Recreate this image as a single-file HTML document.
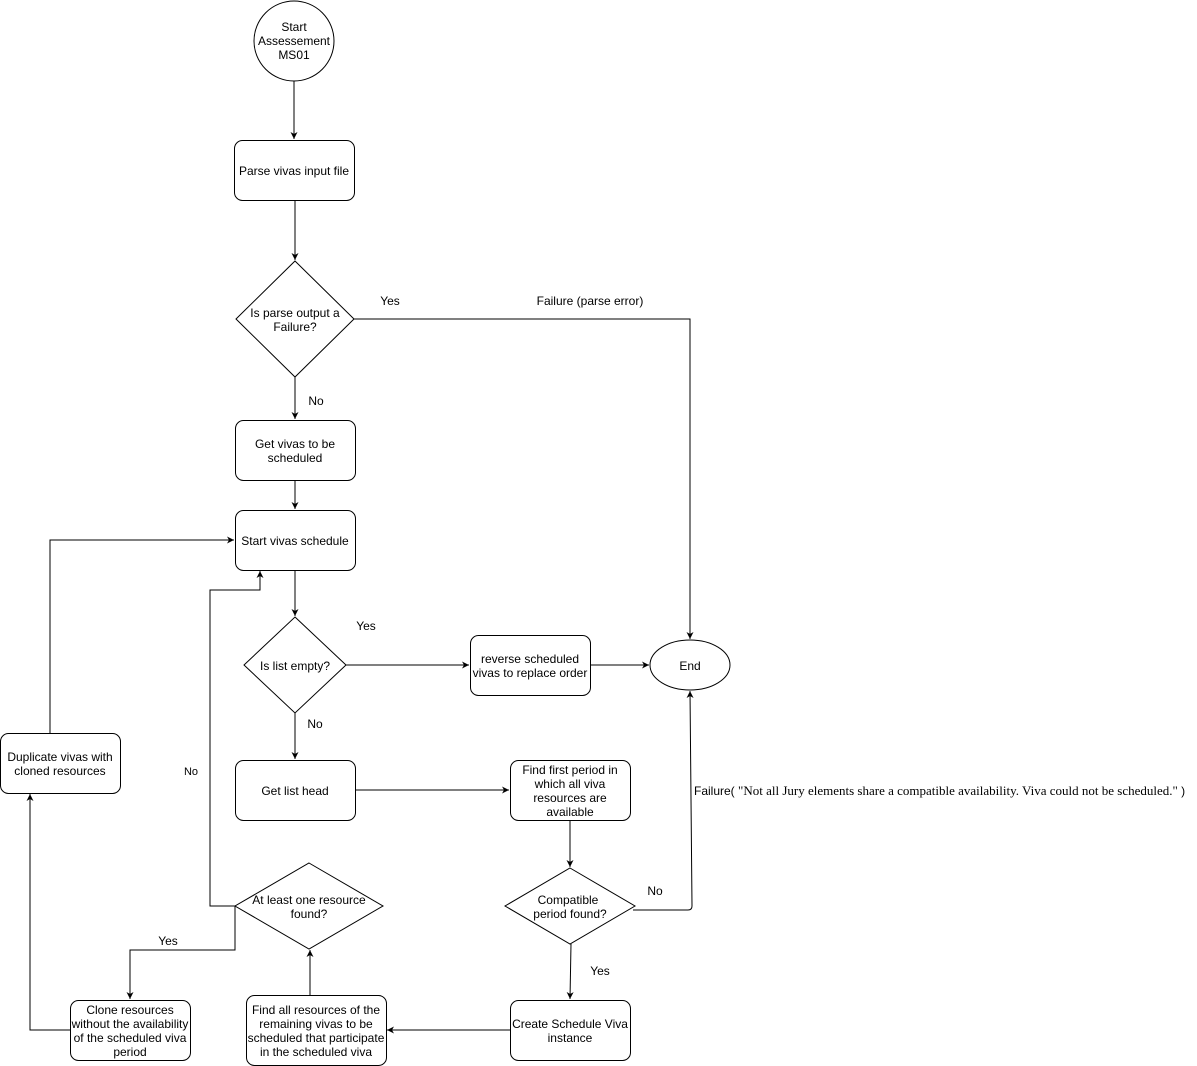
<!DOCTYPE html>
<html><head><meta charset="utf-8"><style>
html,body{margin:0;padding:0;background:#fff;}
svg{display:block;}
text{font-family:"Liberation Sans",sans-serif;font-size:12px;fill:#000;}
.s{fill:#fff;stroke:#000;stroke-width:1;}
.l{fill:none;stroke:#000;stroke-width:1;}
</style></head><body>
<svg width="1197" height="1066" viewBox="0 0 1197 1066" xmlns="http://www.w3.org/2000/svg">
<defs><marker id="a" markerWidth="8" markerHeight="8" refX="7" refY="4" orient="auto" markerUnits="userSpaceOnUse"><path d="M0,0.5 L7,4 L0,7.5 L2,4 Z" fill="#000"/></marker></defs>

<!-- edges -->
<path class="l" d="M294,81 V139" marker-end="url(#a)"/>
<path class="l" d="M295,200 V260" marker-end="url(#a)"/>
<path class="l" d="M354,319 H690 V639" marker-end="url(#a)"/>
<path class="l" d="M295,377 V419" marker-end="url(#a)"/>
<path class="l" d="M295,480 V509" marker-end="url(#a)"/>
<path class="l" d="M295,570 V616" marker-end="url(#a)"/>
<path class="l" d="M346,665 H469" marker-end="url(#a)"/>
<path class="l" d="M590,665 H649" marker-end="url(#a)"/>
<path class="l" d="M295,713 V759" marker-end="url(#a)"/>
<path class="l" d="M355,790 H509" marker-end="url(#a)"/>
<path class="l" d="M570,820 V867" marker-end="url(#a)"/>
<path class="l" d="M633,910 H688 Q692,910 692,906 L690,691" marker-end="url(#a)"/>
<path class="l" d="M571,944 L570,999" marker-end="url(#a)"/>
<path class="l" d="M510,1030 H387" marker-end="url(#a)"/>
<path class="l" d="M310,995 V950" marker-end="url(#a)"/>
<path class="l" d="M235,906 H210 V590 H260 V571" marker-end="url(#a)"/>
<path class="l" d="M235,906 V950 H130 V999" marker-end="url(#a)"/>
<path class="l" d="M70,1030 H30 V794" marker-end="url(#a)"/>
<path class="l" d="M50,733 V540 H234" marker-end="url(#a)"/>

<!-- nodes -->
<circle class="s" cx="294" cy="41" r="40"/>
<text x="294" y="31" text-anchor="middle">Start</text>
<text x="294" y="45" text-anchor="middle">Assessement</text>
<text x="294" y="59" text-anchor="middle">MS01</text>

<rect class="s" x="234.5" y="140.5" width="120" height="60" rx="8"/>
<text x="294" y="175" text-anchor="middle">Parse vivas input file</text>

<path class="s" d="M295,261 L354,319 L295,377 L236,319 Z"/>
<text x="295" y="317" text-anchor="middle">Is parse output a</text>
<text x="295" y="331" text-anchor="middle">Failure?</text>

<rect class="s" x="235.5" y="420.5" width="120" height="60" rx="8"/>
<text x="295" y="448" text-anchor="middle">Get vivas to be</text>
<text x="295" y="462" text-anchor="middle">scheduled</text>

<rect class="s" x="235.5" y="510.5" width="120" height="60" rx="8"/>
<text x="295" y="545" text-anchor="middle">Start vivas schedule</text>

<path class="s" d="M295,617 L346,665 L295,713 L244,665 Z"/>
<text x="295" y="670" text-anchor="middle">Is list empty?</text>

<rect class="s" x="470.5" y="635.5" width="120" height="60" rx="8"/>
<text x="530" y="663" text-anchor="middle">reverse scheduled</text>
<text x="530" y="677" text-anchor="middle">vivas to replace order</text>

<ellipse class="s" cx="690" cy="665" rx="40" ry="25"/>
<text x="690" y="670" text-anchor="middle">End</text>

<rect class="s" x="235.5" y="760.5" width="120" height="60" rx="8"/>
<text x="295" y="795" text-anchor="middle">Get list head</text>

<rect class="s" x="510.5" y="760.5" width="120" height="60" rx="8"/>
<text x="570" y="774" text-anchor="middle">Find first period in</text>
<text x="570" y="788" text-anchor="middle">which all viva</text>
<text x="570" y="802" text-anchor="middle">resources are</text>
<text x="570" y="816" text-anchor="middle">available</text>

<path class="s" d="M570,868 L635,906 L570,944 L505,906 Z"/>
<text x="568" y="904" text-anchor="middle">Compatible</text>
<text x="570" y="918" text-anchor="middle">period found?</text>

<rect class="s" x="510.5" y="1000.5" width="120" height="60" rx="8"/>
<text x="570" y="1028" text-anchor="middle">Create Schedule Viva</text>
<text x="570" y="1042" text-anchor="middle">instance</text>

<rect class="s" x="246.5" y="995.5" width="140" height="70" rx="8"/>
<text x="316" y="1014" text-anchor="middle">Find all resources of the</text>
<text x="316" y="1028" text-anchor="middle">remaining vivas to be</text>
<text x="316" y="1042" text-anchor="middle">scheduled that participate</text>
<text x="316" y="1056" text-anchor="middle">in the scheduled viva</text>

<path class="s" d="M309,863 L383,906 L309,949 L235,906 Z"/>
<text x="309" y="904" text-anchor="middle">At least one resource</text>
<text x="309" y="918" text-anchor="middle">found?</text>

<rect class="s" x="70.5" y="1000.5" width="120" height="60" rx="8"/>
<text x="130" y="1014" text-anchor="middle">Clone resources</text>
<text x="130" y="1028" text-anchor="middle">without the availability</text>
<text x="130" y="1042" text-anchor="middle">of the scheduled viva</text>
<text x="130" y="1056" text-anchor="middle">period</text>

<rect class="s" x="0.5" y="733.5" width="120" height="60" rx="8"/>
<text x="60" y="761" text-anchor="middle">Duplicate vivas with</text>
<text x="60" y="775" text-anchor="middle">cloned resources</text>

<!-- labels -->
<text x="390" y="305" text-anchor="middle">Yes</text>
<text x="590" y="305" text-anchor="middle">Failure (parse error)</text>
<text x="316" y="405" text-anchor="middle">No</text>
<text x="366" y="630" text-anchor="middle">Yes</text>
<text x="315" y="728" text-anchor="middle">No</text>
<text x="191" y="775" text-anchor="middle" style="font-size:11px">No</text>
<text x="655" y="895" text-anchor="middle">No</text>
<text x="600" y="975" text-anchor="middle">Yes</text>
<text x="168" y="945" text-anchor="middle">Yes</text>
<text x="694" y="795">Failure( <tspan style="font-family:'Liberation Serif',serif;font-size:13px">"Not all Jury elements share a compatible availability. Viva could not be scheduled."</tspan> )</text>
</svg>
</body></html>
